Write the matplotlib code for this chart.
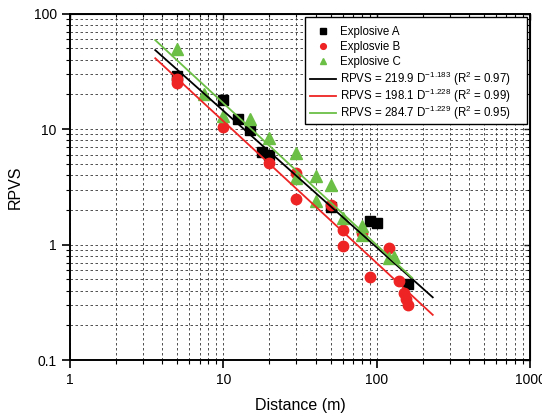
import numpy as np
import matplotlib
matplotlib.use("Agg")
import matplotlib.pyplot as plt
from matplotlib.patches import Rectangle
from matplotlib.ticker import LogLocator, NullFormatter, FixedLocator, FixedFormatter

plt.rcParams['font.family'] = ['Liberation Sans', 'DejaVu Sans']
plt.rcParams['mathtext.fontset'] = 'custom'
plt.rcParams['mathtext.rm'] = 'Liberation Sans'

# Explosive A (black squares)
dist_a = [5, 10, 12.5, 15, 18, 20, 50, 90, 100, 160]
rpvs_a = [29, 18, 12.2, 9.9, 6.3, 6.0, 2.1, 1.6, 1.55, 0.46]
# Explosvie B (red circles)
dist_b = [5, 5, 10, 20, 30, 30, 50, 60, 60, 80, 90, 120, 140, 150, 155, 160]
rpvs_b = [27, 25, 10.4, 5.1, 4.2, 2.5, 2.2, 1.35, 0.97, 1.25, 0.52, 0.93, 0.48, 0.38, 0.34, 0.30]
# Explosive C (green triangles)
dist_c = [5, 7.5, 10, 15, 20, 30, 30, 40, 40, 50, 60, 80, 80, 120, 130]
rpvs_c = [49, 20, 13, 12.3, 8.3, 6.2, 3.75, 3.9, 2.4, 3.3, 1.7, 1.45, 1.2, 0.76, 0.78]

# Power-law fits: RPVS = k * D^-b
fit_k = [219.9, 198.1, 284.7]
fit_b = [1.183, 1.228, 1.229]
fit_r2 = [0.97, 0.99, 0.95]
fit_range = [(3.6, 232), (3.6, 232), (3.6, 170)]

labels = ["Explosive A", "Explosvie B", "Explosive C"]
colors = ["black", "#ee2424", "#6cbf45"]

x_major = [1, 10, 100, 1000]
x_major_labels = ["1", "10", "100", "1000"]
y_major = [0.1, 1, 10, 100]
y_major_labels = ["0.1", "1", "10", "100"]

fig = plt.figure(figsize=(5.42, 4.13), dpi=100)
ax = fig.add_axes([0.129, 0.128, 0.849, 0.839])

pts = []
pts += ax.plot(dist_a, rpvs_a, 's', color=colors[0], ms=7.5, label=labels[0], zorder=3)
pts += ax.plot(dist_b, rpvs_b, 'o', color=colors[1], ms=7.5, label=labels[1], zorder=3)
pts += ax.plot(dist_c, rpvs_c, '^', color=colors[2], ms=9, label=labels[2], zorder=3)

lines = []
for i in range(3):
    d = np.logspace(np.log10(fit_range[i][0]), np.log10(fit_range[i][1]), 50)
    lab = (r"RPVS = %.1f D$^{\mathregular{-%.3f}}$ (R$^{\mathregular{2}}$ = %.2f)"
           % (fit_k[i], fit_b[i], fit_r2[i]))
    lines += ax.plot(d, fit_k[i] * d ** (-fit_b[i]), '-', color=colors[i], lw=1.3,
                     label=lab, zorder=4)

ax.set_xscale('log')
ax.set_yscale('log')
ax.set_xlim(1, 1000)
ax.set_ylim(0.1, 100)

ax.xaxis.set_major_locator(FixedLocator(x_major))
ax.xaxis.set_major_formatter(FixedFormatter(x_major_labels))
ax.yaxis.set_major_locator(FixedLocator(y_major))
ax.yaxis.set_major_formatter(FixedFormatter(y_major_labels))
ax.xaxis.set_minor_locator(LogLocator(base=10, subs=np.arange(2, 10)))
ax.yaxis.set_minor_locator(LogLocator(base=10, subs=np.arange(2, 10)))
ax.xaxis.set_minor_formatter(NullFormatter())
ax.yaxis.set_minor_formatter(NullFormatter())

ax.grid(True, which='both', linestyle=(0, (3, 3)), color='#333333', lw=0.6)
ax.tick_params(which='major', direction='out', length=6, width=1.2, labelsize=10)
ax.tick_params(which='minor', direction='out', length=3, width=0.8)
for s in ax.spines.values():
    s.set_linewidth(1.4)

# inward ticks on the top and right frame
top = ax.secondary_xaxis('top')
right = ax.secondary_yaxis('right')
top.xaxis.set_major_locator(FixedLocator(x_major))
top.xaxis.set_minor_locator(LogLocator(base=10, subs=np.arange(2, 10)))
top.xaxis.set_major_formatter(NullFormatter())
top.xaxis.set_minor_formatter(NullFormatter())
right.yaxis.set_major_locator(FixedLocator(y_major))
right.yaxis.set_minor_locator(LogLocator(base=10, subs=np.arange(2, 10)))
right.yaxis.set_major_formatter(NullFormatter())
right.yaxis.set_minor_formatter(NullFormatter())
for sec in (top, right):
    sec.tick_params(which='major', direction='in', length=4, width=1.0)
    sec.tick_params(which='minor', direction='in', length=2.5, width=0.8)

ax.set_xlabel("Distance (m)", fontsize=11.5, labelpad=8)
ax.set_ylabel("RPVS", fontsize=11.5, labelpad=8)

# legend box drawn as a frame, entries placed inside it (two stacked groups)
ax.add_patch(Rectangle((0.511, 0.682), 0.483, 0.309, transform=ax.transAxes,
                       facecolor='white', edgecolor='black', lw=1.0, zorder=5))
common = dict(fontsize=8.3, frameon=False, handlelength=2.3, handletextpad=0.3,
              borderaxespad=0, borderpad=0, markerscale=0.55)
leg1 = ax.legend(handles=pts, loc='upper left', bbox_to_anchor=(0.5217, 0.965),
                 labelspacing=0.28, **common)
leg1.set_zorder(6)
ax.add_artist(leg1)
leg2 = ax.legend(handles=lines, loc='upper left', bbox_to_anchor=(0.5217, 0.838),
                 labelspacing=-0.1, **common)
leg2.set_zorder(6)

fig.savefig("out.png", dpi=100)
